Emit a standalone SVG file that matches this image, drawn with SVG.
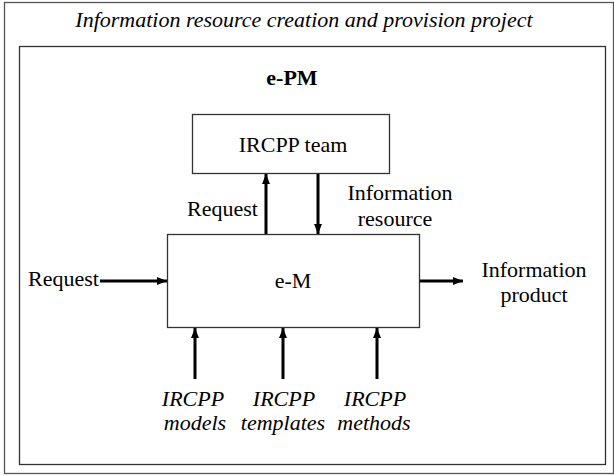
<svg xmlns="http://www.w3.org/2000/svg" width="614" height="476" viewBox="0 0 614 476">
<defs>
<style>
.t{font-family:'Liberation Serif','Times New Roman',Times,'DejaVu Serif',serif;font-size:22px;fill:#000}
.i{font-style:italic}
.b{font-weight:bold}
.box{fill:#fff;stroke:#333;stroke-width:1.3}
.c{stroke:#000;stroke-width:3;fill:none;marker-end:url(#ah)}
</style>
<marker id="ah" viewBox="0 0 10 8" refX="10" refY="4" markerWidth="10" markerHeight="8" markerUnits="userSpaceOnUse" orient="auto">
<path d="M0,0 L10,4 L0,8 Z" fill="#000"/>
</marker>
</defs>
<rect width="614" height="476" fill="#fff"/>
<g id="outer">
<rect x="4.5" y="2.5" width="609" height="471" fill="none" stroke="#555" stroke-width="1.3"/>
<text class="t i" x="304" y="27" text-anchor="middle" font-family="Liberation Serif, serif">Information resource creation and provision project</text>
</g>
<g id="epm">
<rect x="19.5" y="46.5" width="586" height="418" fill="none" stroke="#333" stroke-width="1.3"/>
<text class="t b" x="292" y="85" text-anchor="middle">e-PM</text>
</g>
<g id="team">
<rect class="box" x="192.5" y="114.5" width="197" height="59"/>
<text class="t" x="293" y="152" text-anchor="middle">IRCPP team</text>
</g>
<g id="em">
<rect class="box" x="167.5" y="234.5" width="252" height="93"/>
<text class="t" x="293" y="288" text-anchor="middle">e-M</text>
</g>
<g id="connectors">
<line class="c" x1="266" y1="234" x2="266" y2="174"/>
<line class="c" x1="318" y1="174" x2="318" y2="234"/>
<line class="c" x1="100" y1="281" x2="167" y2="281"/>
<line class="c" x1="420" y1="281" x2="463" y2="281"/>
<line class="c" x1="195" y1="379" x2="195" y2="328"/>
<line class="c" x1="283" y1="379" x2="283" y2="328"/>
<line class="c" x1="377" y1="379" x2="377" y2="328"/>
</g>
<g id="labels">
<text class="t" x="258" y="216" text-anchor="end">Request</text>
<text class="t" x="400" y="200" text-anchor="middle">Information</text>
<text class="t" x="395" y="226" text-anchor="middle">resource</text>
<text class="t" x="99" y="286" text-anchor="end">Request</text>
<text class="t" x="534" y="277" text-anchor="middle">Information</text>
<text class="t" x="534" y="302" text-anchor="middle">product</text>
<text class="t i" x="193" y="406" text-anchor="middle">IRCPP</text>
<text class="t i" x="195" y="430" text-anchor="middle">models</text>
<text class="t i" x="284" y="406" text-anchor="middle">IRCPP</text>
<text class="t i" x="283" y="430" text-anchor="middle">templates</text>
<text class="t i" x="375" y="406" text-anchor="middle">IRCPP</text>
<text class="t i" x="374" y="430" text-anchor="middle">methods</text>
</g>
</svg>
